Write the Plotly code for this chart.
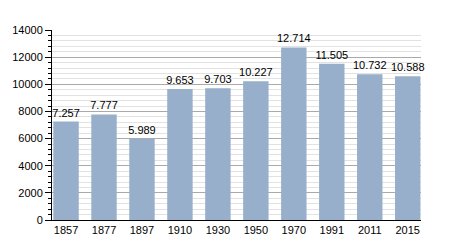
import plotly.graph_objects as go

years = ["1857", "1877", "1897", "1910", "1930", "1950", "1970", "1991", "2011", "2015"]
population = [7257, 7777, 5989, 9653, 9703, 10227, 12714, 11505, 10732, 10588]
y_ticks = [0, 2000, 4000, 6000, 8000, 10000, 12000, 14000]

labels = [f"{v:,}".replace(",", ".") for v in population]

fig = go.Figure(
    go.Bar(
        x=years,
        y=population,
        text=labels,
        textposition="outside",
        textfont=dict(color="#000000", size=11, family="Liberation Sans, Arial, sans-serif"),
        marker=dict(color="#97afca", line=dict(width=0)),
        cliponaxis=False,
        hoverinfo="skip",
    )
)

fig.update_layout(
    width=450,
    height=250,
    margin=dict(l=50, r=29, t=30, b=30),
    paper_bgcolor="white",
    plot_bgcolor="white",
    bargap=0.33,
    showlegend=False,
    font=dict(family="Liberation Sans, Arial, sans-serif", size=11, color="#000000"),
    uniformtext=dict(minsize=11, mode="show"),
)

fig.update_xaxes(
    type="category",
    range=[-0.37, 9.35],
    showline=True,
    linecolor="#000000",
    linewidth=1,
    ticks="",
    showgrid=False,
    tickfont=dict(size=11),
)

fig.update_yaxes(
    range=[0, 14000],
    tickvals=y_ticks,
    ticktext=[str(v) for v in y_ticks],
    showline=True,
    linecolor="#000000",
    linewidth=1,
    ticks="outside",
    ticklen=6,
    tickcolor="#000000",
    tickwidth=1,
    showgrid=True,
    gridcolor="#aaaaaa",
    gridwidth=1,
    zeroline=False,
    tickfont=dict(size=11),
    minor=dict(
        dtick=400,
        tick0=0,
        ticks="outside",
        ticklen=3,
        tickcolor="#000000",
        showgrid=True,
        gridcolor="#e2e2e2",
        gridwidth=1,
    ),
)

fig.write_html("out.html")
